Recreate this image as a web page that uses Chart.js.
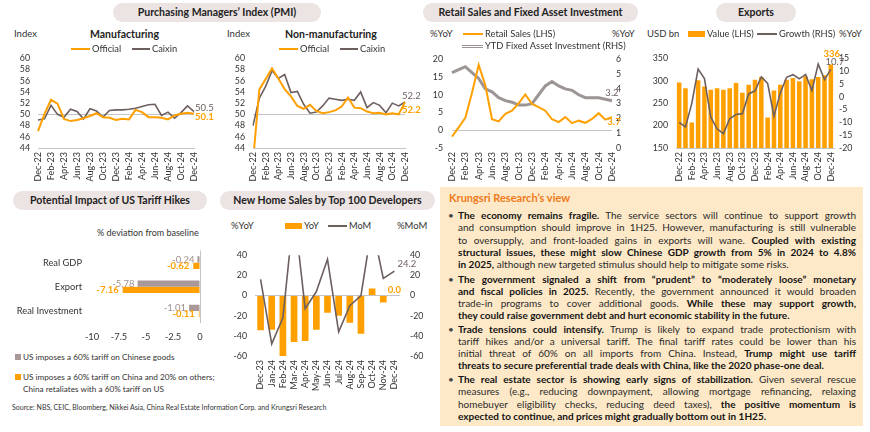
<!DOCTYPE html>
<html>
<head>
<meta charset="utf-8">
<script src="https://cdn.jsdelivr.net/npm/chart.js@4.4.1/dist/chart.umd.min.js"></script>
<style>
  body { margin: 0; width: 870px; height: 432px; overflow: hidden; background: #fff; font-family: Lato, sans-serif; color: #333; position: relative; }
  canvas { position: absolute; }
  .pill { position: absolute; height: 19px; line-height: 19px; border-radius: 10px; background: #ece3e3; font-weight: bold; font-size: 10.5px; color: #222; text-align: center; }
  .txt { position: absolute; font-size: 9.5px; white-space: nowrap; line-height: 12px; transform: translateY(-6px); }
  .ttl { font-weight: bold; font-size: 10.5px; color: #222; }
  .mk { position: absolute; }
  #vista { position: absolute; left: 440px; top: 187px; width: 423px; height: 239px; background: #fde9c8; }
  #vista .vt { position: absolute; left: 9px; top: 4px; font-weight: bold; font-size: 11px; color: #f07a1a; }
  .par { position: absolute; left: 18px; width: 398px; }
  .ln { height: 12.3px; line-height: 12.3px; font-size: 10px; white-space: nowrap; color: #2a2a2a; }
  .ln span { display: inline-block; transform-origin: left center; }
  .ln b { color: #141414; }
  .bul { position: absolute; left: -10px; top: 0; font-size: 10px; line-height: 12.3px; color: #444; }
  .src { position: absolute; left: 12px; top: 403px; font-size: 7px; color: #333; white-space: nowrap; }
</style>
</head>
<body>

<div class="pill" style="left:113px;top:3px;width:208px;">Purchasing Managers’ Index (PMI)</div>
<div class="pill" style="left:423px;top:3px;width:215px;">Retail Sales and Fixed Asset Investment</div>
<div class="pill" style="left:716px;top:3px;width:80px;">Exports</div>
<div class="pill" style="left:13px;top:191px;width:194px;">Potential Impact of US Tariff Hikes</div>
<div class="pill" style="left:220px;top:191px;width:215px;">New Home Sales by Top 100 Developers</div>

<div class="txt" style="left:14px;top:34px;">Index</div>
<div class="txt ttl" style="left:90px;top:34px;">Manufacturing</div>
<div class="txt" style="left:227px;top:34px;">Index</div>
<div class="txt ttl" style="left:285px;top:34px;">Non-manufacturing</div>
<div class="txt" style="left:430px;top:34px;">%YoY</div>
<div class="txt" style="left:612px;top:34px;">%YoY</div>
<div class="txt" style="left:647px;top:34px;">USD bn</div>
<div class="txt" style="left:839px;top:34px;">%YoY</div>
<div class="txt" style="left:97px;top:233px;font-size:9px;">% deviation from baseline</div>
<div class="txt" style="left:231px;top:226px;">%YoY</div>
<div class="txt" style="left:397px;top:226px;">%MoM</div>

<canvas id="pmiMfg" width="210" height="140" style="left:5px;top:45px;"></canvas>
<canvas id="pmiNon" width="215" height="140" style="left:215px;top:45px;"></canvas>
<canvas id="retail" width="210" height="140" style="left:425px;top:45px;"></canvas>
<canvas id="exports" width="225" height="140" style="left:640px;top:45px;"></canvas>
<canvas id="tariff" width="215" height="115" style="left:0px;top:235px;"></canvas>
<canvas id="homes" width="215" height="160" style="left:215px;top:240px;"></canvas>

<div class="mk" style="left:15px;top:354px;width:6px;height:6px;background:#a89898;"></div>
<div class="txt" style="left:23px;top:357px;font-size:8.2px;">US imposes a 60% tariff on Chinese goods</div>
<div class="mk" style="left:15px;top:374px;width:6px;height:6px;background:#ffa000;"></div>
<div class="txt" style="left:23px;top:377px;font-size:8.2px;">US imposes a 60% tariff on China and 20% on others;</div>
<div class="txt" style="left:23px;top:389px;font-size:8.2px;">China retaliates with a 60% tariff on US</div>

<div class="src">Source: NBS, CEIC, Bloomberg, Nikkei Asia, China Real Estate Information Corp. and Krungsri Research</div>

<div id="vista">
  <div class="vt">Krungsri Research’s view</div>
  <div class="par" style="top:22px;">
    <span class="bul">•</span>
    <div class="ln"><span><b>The economy remains fragile.</b> The service sectors will continue to support growth</span></div>
    <div class="ln"><span>and consumption should improve in 1H25. However, manufacturing is still vulnerable</span></div>
    <div class="ln"><span>to oversupply, and front-loaded gains in exports will wane. <b>Coupled with existing</b></span></div>
    <div class="ln"><span><b>structural issues, these might slow Chinese GDP growth from 5% in 2024 to 4.8%</b></span></div>
    <div class="ln fin"><span><b>in 2025,</b> although new targeted stimulus should help to mitigate some risks.</span></div>
  </div>
  <div class="par" style="top:85.5px;">
    <span class="bul">•</span>
    <div class="ln"><span><b>The government signaled a shift from “prudent” to “moderately loose” monetary</b></span></div>
    <div class="ln"><span><b>and fiscal policies in 2025.</b> Recently, the government announced it would broaden</span></div>
    <div class="ln"><span>trade-in programs to cover additional goods. <b>While these may support growth,</b></span></div>
    <div class="ln fin"><span><b>they could raise government debt and hurt economic stability in the future.</b></span></div>
  </div>
  <div class="par" style="top:135.5px;">
    <span class="bul">•</span>
    <div class="ln"><span><b>Trade tensions could intensify.</b> Trump is likely to expand trade protectionism with</span></div>
    <div class="ln"><span>tariff hikes and/or a universal tariff. The final tariff rates could be lower than his</span></div>
    <div class="ln"><span>initial threat of 60% on all imports from China. Instead, <b>Trump might use tariff</b></span></div>
    <div class="ln fin"><span><b>threats to secure preferential trade deals with China, like the 2020 phase-one deal.</b></span></div>
  </div>
  <div class="par" style="top:186px;">
    <span class="bul">•</span>
    <div class="ln"><span><b>The real estate sector is showing early signs of stabilization.</b> Given several rescue</span></div>
    <div class="ln"><span>measures (e.g., reducing downpayment, allowing mortgage refinancing, relaxing</span></div>
    <div class="ln"><span>homebuyer eligibility checks, reducing deed taxes), <b>the positive momentum is</b></span></div>
    <div class="ln fin"><span><b>expected to continue, and prices might gradually bottom out in 1H25.</b></span></div>
  </div>
</div>

<script>
const meses = ['Dec-22','Jan-23','Feb-23','Mar-23','Apr-23','May-23','Jun-23','Jul-23','Aug-23','Sep-23','Oct-23','Nov-23','Dec-23',
  'Jan-24','Feb-24','Mar-24','Apr-24','May-24','Jun-24','Jul-24','Aug-24','Sep-24','Oct-24','Nov-24','Dec-24'];

const mfgOfficial = [47.0, 50.1, 52.6, 51.9, 49.2, 48.8, 49.0, 49.3, 49.7, 50.2, 49.5, 49.4, 49.0, 49.2, 49.1, 50.8, 50.4, 49.5, 49.5, 49.4, 49.1, 49.8, 50.1, 50.3, 50.1];
const mfgCaixin = [49.0, 49.2, 51.6, 50.0, 49.5, 50.9, 50.5, 49.2, 51.0, 50.6, 49.5, 50.7, 50.8, 50.8, 50.9, 51.1, 51.4, 51.7, 51.8, 49.8, 50.4, 49.3, 50.3, 51.5, 50.5];

const nonOfficial = [41.6, 54.4, 56.3, 58.2, 56.4, 54.5, 53.2, 51.5, 51.0, 51.7, 50.6, 50.2, 50.4, 50.7, 51.4, 53.0, 51.2, 51.1, 50.5, 50.2, 50.3, 50.0, 50.2, 50.0, 52.2];
const nonCaixin = [48.0, 52.9, 55.0, 57.8, 56.4, 57.1, 53.9, 54.1, 51.8, 50.2, 50.4, 51.5, 52.9, 52.7, 52.5, 52.7, 52.5, 54.0, 51.2, 52.1, 51.6, 50.3, 52.0, 51.5, 52.2];

const ventasMinoristas = [-1.8, 0.8, 3.5, 10.6, 18.4, 12.7, 3.1, 2.5, 4.6, 5.5, 7.6, 10.1, 7.4, 6.5, 5.5, 3.1, 2.3, 3.7, 2.0, 2.7, 2.1, 3.2, 4.8, 3.0, 3.7];
const inversionFija = [5.1, 5.3, 5.5, 5.1, 4.7, 4.0, 3.8, 3.4, 3.2, 3.1, 2.9, 2.9, 3.0, 3.6, 4.2, 4.5, 4.2, 4.0, 3.9, 3.6, 3.4, 3.4, 3.4, 3.3, 3.2];

const exportValor = [296, 283, 207, 301, 287, 280, 283, 280, 283, 295, 273, 291, 302, 308, 218, 278, 291, 302, 306, 299, 310, 303, 308, 312, 336];
const exportCrec = [-10.0, -11.8, -2.6, 10.8, 7.1, -8.0, -12.5, -14.4, -8.6, -6.9, -6.6, 1.1, 2.3, 7.7, 5.2, -7.6, 1.5, 7.6, 8.6, 7.0, 8.7, 2.4, 12.7, 6.7, 10.7];

const arancelCats = ['Real GDP', 'Export', 'Real Investment'];
const arancelChina = [-0.24, -5.78, -1.01];
const arancelRepresalia = [-0.62, -7.16, -0.11];

const mesesCasas = ['Dec-23','Jan-24','Feb-24','Mar-24','Apr-24','May-24','Jun-24','Jul-24','Aug-24','Sep-24','Oct-24','Nov-24','Dec-24'];
const casasYoY = [-34.5, -34, -60, -46, -45, -34, -17, -20, -27, -38, 7, -7, 0.0];
const casasMoM = [16, -48, -22, 85, -13, 4, 36, -36, -10, 0, 70, 17, 24.2];

const NARANJA = '#ffa000';
const GRIS = '#6e5f5f';
const GRIS_BARRA = '#a89898';
const LINEA = '#c4c4c4';
const TEXTO = '#333';

Chart.defaults.font.family = 'Lato';
Chart.defaults.color = TEXTO;
Chart.defaults.animation = false;

// labels for the last value (or every value) of a dataset
const etiquetas = {
  id: 'etiquetas',
  afterDatasetsDraw(chart, args, opts) {
    const ctx = chart.ctx;
    (opts.items || []).forEach(it => {
      const meta = chart.getDatasetMeta(it.ds);
      const valores = chart.data.datasets[it.ds].data;
      const indices = it.todos ? valores.map((v, i) => i) : [valores.length - 1];
      indices.forEach(i => {
        const el = meta.data[i];
        ctx.save();
        ctx.font = (it.bold ? 'bold ' : '') + (it.size || 9.5) + 'px Lato';
        ctx.fillStyle = it.color;
        ctx.textAlign = it.align || 'left';
        ctx.textBaseline = 'middle';
        ctx.fillText(valores[i].toFixed(it.dec === undefined ? 1 : it.dec), el.x + (it.dx || 0), el.y + (it.dy || 0));
        ctx.restore();
      });
    });
  }
};
Chart.register(etiquetas);

const ejeMeses = (alto, cada, borde) => ({
  grid: { display: false, drawTicks: false },
  border: { display: borde, color: LINEA },
  ticks: {
    autoSkip: false, maxRotation: 90, minRotation: 90, padding: 4,
    font: { size: 9 }, color: TEXTO,
    callback: function (v, i) { return i % cada === 0 ? this.getLabelForValue(v) : ''; }
  },
  afterFit: s => { s.height = alto; }
});

const ejeY = (pos, min, max, paso, ancho, pad, cero) => ({
  position: pos, min, max,
  ticks: { stepSize: paso, autoSkip: false, padding: pad, font: { size: 8.8 }, color: TEXTO },
  grid: {
    display: cero !== null, drawTicks: false,
    color: c => c.tick.value === cero ? LINEA : 'rgba(0,0,0,0)'
  },
  border: { display: false },
  afterFit: s => { s.width = ancho; }
});

const base = (padding, items) => ({
  responsive: false,
  animation: false,
  layout: { padding },
  plugins: { legend: { display: false }, tooltip: { enabled: false }, etiquetas: { items } }
});

const crearPmi = (id, oficial, caixin, ancho, derecha, items) => {
  const opts = base({ top: 7, right: derecha, left: 0, bottom: 0 }, items);
  opts.scales = {
    x: ejeMeses(37, 2, true),
    y: ejeY('left', 44, 60, 2, ancho, 8, 50)
  };
  return new Chart(document.getElementById(id), {
    type: 'line',
    data: {
      labels: meses,
      datasets: [
        { label: 'Official', data: oficial, borderColor: NARANJA, borderWidth: 2, pointRadius: 0 },
        { label: 'Caixin', data: caixin, borderColor: GRIS, borderWidth: 1.6, pointRadius: 0 }
      ]
    },
    options: opts
  });
};

crearPmi('pmiMfg', mfgOfficial, mfgCaixin, 33, 21, [
  { ds: 1, color: GRIS, dx: 1, dy: -4 },
  { ds: 0, color: NARANJA, bold: true, dx: 1, dy: 3 }
]);

crearPmi('pmiNon', nonOfficial, nonCaixin, 38, 25, [
  { ds: 1, color: GRIS, dx: -3, dy: -6 },
  { ds: 0, color: NARANJA, bold: true, dx: -3, dy: 8 }
]);

// retail sales + FAI
const optsRetail = base({ top: 7, right: 0, left: 0, bottom: 0 }, [
  { ds: 1, color: GRIS, align: 'center', dy: -8 },
  { ds: 0, color: NARANJA, bold: true, align: 'center', dx: 2, dy: 5 }
]);
optsRetail.scales = {
  x: ejeMeses(37, 2, false),
  y: ejeY('left', -5, 20, 5, 27, 9, 0),
  y1: ejeY('right', 0, 6, 1, 23, 4, null)
};
new Chart(document.getElementById('retail'), {
  type: 'line',
  data: {
    labels: meses,
    datasets: [
      { label: 'Retail Sales (LHS)', data: ventasMinoristas, borderColor: NARANJA, borderWidth: 2, pointRadius: 0, yAxisID: 'y' },
      { label: 'YTD Fixed Asset Investment (RHS)', data: inversionFija, borderColor: '#9d9494', borderWidth: 3, pointRadius: 0, yAxisID: 'y1' },
      { label: '', data: inversionFija, borderColor: '#ffffff', borderWidth: 1, pointRadius: 0, yAxisID: 'y1' }
    ]
  },
  options: optsRetail
});

// exports
const optsExp = base({ top: 7, right: 0, left: 0, bottom: 0 }, [
  { ds: 1, color: NARANJA, bold: true, align: 'center', dx: 1, dy: -11, dec: 0 },
  { ds: 0, color: GRIS, align: 'center', dx: 4, dy: -7 }
]);
optsExp.scales = {
  x: ejeMeses(37, 2, true),
  y: ejeY('left', 150, 350, 50, 36, 8, null),
  y1: ejeY('right', -20, 15, 5, 31, 5, null)
};
new Chart(document.getElementById('exports'), {
  data: {
    labels: meses,
    datasets: [
      { type: 'line', label: 'Growth (RHS)', data: exportCrec, borderColor: GRIS, borderWidth: 1.6, pointRadius: 0, yAxisID: 'y1', order: 0 },
      { type: 'bar', label: 'Value (LHS)', data: exportValor, backgroundColor: NARANJA, barPercentage: 0.72, categoryPercentage: 1, yAxisID: 'y', order: 1 }
    ]
  },
  options: optsExp
});

// tariff impact
const optsAr = base({ top: 7, right: 15, left: 0, bottom: 0 }, [
  { ds: 0, todos: true, color: '#a09090', align: 'right', dx: -3, dec: 2 },
  { ds: 1, todos: true, color: NARANJA, bold: true, align: 'right', dx: -4, dec: 2 }
]);
optsAr.indexAxis = 'y';
optsAr.scales = {
  x: {
    min: -10, max: 0,
    ticks: { stepSize: 2.5, autoSkip: false, padding: 8, font: { size: 9.3 }, color: TEXTO },
    grid: { drawTicks: false, color: c => c.tick.value === 0 ? LINEA : 'rgba(0,0,0,0)' },
    border: { display: false },
    afterFit: s => { s.height = 27; }
  },
  y: {
    ticks: { padding: 10, font: { size: 9.3 }, color: TEXTO },
    grid: { display: false, drawTicks: false },
    border: { display: false },
    afterFit: s => { s.width = 92; }
  }
};
new Chart(document.getElementById('tariff'), {
  type: 'bar',
  data: {
    labels: arancelCats,
    datasets: [
      { label: 'US imposes a 60% tariff on Chinese goods', data: arancelChina, backgroundColor: GRIS_BARRA, barPercentage: 1, categoryPercentage: 0.52 },
      { label: 'US imposes a 60% tariff on China and 20% on others; China retaliates with a 60% tariff on US', data: arancelRepresalia, backgroundColor: NARANJA, barPercentage: 1, categoryPercentage: 0.52 }
    ]
  },
  options: optsAr
});

// new home sales
const optsCasas = base({ top: 7, right: 0, left: 0, bottom: 0 }, [
  { ds: 0, color: GRIS, dx: 3, dy: -7 },
  { ds: 1, color: NARANJA, bold: true, align: 'center', dy: -6 }
]);
optsCasas.scales = {
  x: ejeMeses(44, 1, false),
  y: ejeY('left', -60, 40, 20, 40, 8, 0),
  y1: ejeY('right', -60, 40, 20, 30, 10, null)
};
new Chart(document.getElementById('homes'), {
  data: {
    labels: mesesCasas,
    datasets: [
      { type: 'line', label: 'MoM', data: casasMoM, borderColor: GRIS, borderWidth: 1.6, pointRadius: 0, yAxisID: 'y1', order: 0 },
      { type: 'bar', label: 'YoY', data: casasYoY, backgroundColor: NARANJA, barPercentage: 0.6, categoryPercentage: 1, yAxisID: 'y', order: 1 }
    ]
  },
  options: optsCasas
});

// html legends
const leyenda = (x, y, tipo, color, texto, ancho) => {
  const m = document.createElement('div');
  m.className = 'mk';
  if (tipo === 'rect') {
    m.style.cssText = `left:${x}px;top:${y - 3}px;width:${ancho}px;height:6px;background:${color};`;
  } else if (tipo === 'doble') {
    m.style.cssText = `left:${x}px;top:${y - 1.5}px;width:${ancho}px;height:1px;background:#fff;border-top:1px solid ${color};border-bottom:1px solid ${color};`;
  } else {
    m.style.cssText = `left:${x}px;top:${y - 1}px;width:${ancho}px;height:2px;background:${color};`;
  }
  document.body.append(m);
  const t = document.createElement('div');
  t.className = 'txt';
  t.style.left = (x + ancho + 2) + 'px';
  t.style.top = y + 'px';
  t.style.fontSize = '9.3px';
  t.textContent = texto;
  document.body.append(t);
};

leyenda(71, 49, 'line', NARANJA, 'Official', 19);
leyenda(132, 49, 'line', GRIS, 'Caixin', 18);
leyenda(279, 49, 'line', NARANJA, 'Official', 19);
leyenda(340, 49, 'line', GRIS, 'Caixin', 18);
leyenda(463, 34, 'line', NARANJA, 'Retail Sales (LHS)', 20);
leyenda(462, 46, 'doble', '#9d9494', 'YTD Fixed Asset Investment (RHS)', 21);
leyenda(688, 34, 'rect', NARANJA, 'Value (LHS)', 17);
leyenda(757, 34, 'line', GRIS, 'Growth (RHS)', 20);
leyenda(285, 226, 'rect', NARANJA, 'YoY', 17);
leyenda(328, 226, 'line', GRIS, 'MoM', 19);

// justify the text box lines to the column width
const ANCHO = 398;
document.querySelectorAll('.ln').forEach(ln => {
  const sp = ln.firstElementChild;
  const w = sp.getBoundingClientRect().width;
  const espacios = (sp.textContent.match(/ /g) || []).length;
  if (w > ANCHO) {
    sp.style.transform = `scaleX(${ANCHO / w})`;
  } else if (!ln.classList.contains('fin') && espacios) {
    sp.style.wordSpacing = ((ANCHO - w) / espacios) + 'px';
  }
});
</script>
</body>
</html>
